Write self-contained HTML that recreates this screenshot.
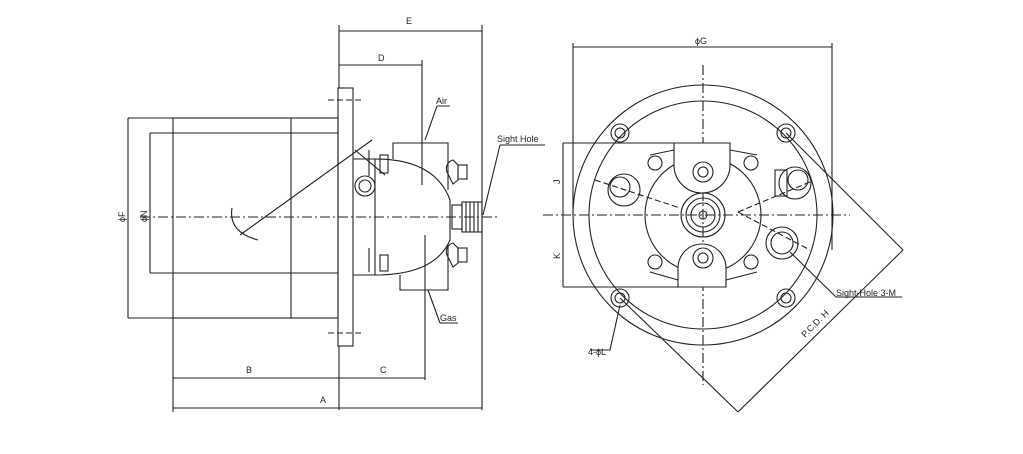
<!DOCTYPE html>
<html><head><meta charset="utf-8"><style>
html,body{margin:0;padding:0;background:#fff;}
svg{display:block}
text{font-family:"Liberation Sans",sans-serif;font-size:9px;fill:#222}
</style></head><body>
<svg width="1023" height="454" viewBox="0 0 1023 454" xmlns="http://www.w3.org/2000/svg">
<g stroke="#222" stroke-width="1.1" fill="none">
<!-- LEFT VIEW -->
<rect x="173" y="118" width="165" height="200"/>
<line x1="291" y1="118" x2="291" y2="318"/>
<line x1="150" y1="133" x2="338" y2="133"/>
<line x1="150" y1="273" x2="338" y2="273"/>
<line x1="150" y1="133" x2="150" y2="273"/>
<line x1="128" y1="118" x2="173" y2="118"/>
<line x1="128" y1="318" x2="173" y2="318"/>
<line x1="128" y1="118" x2="128" y2="318"/>
<rect x="338" y="88" width="15" height="258"/>
<line x1="328" y1="100" x2="363" y2="100" stroke-dasharray="6,3"/>
<line x1="328" y1="333" x2="363" y2="333" stroke-dasharray="6,3"/>
<line x1="140" y1="217" x2="500" y2="217" stroke-dasharray="10,3,2,3"/>
<!-- housing -->
<path d="M353 159 L375 159 L375 275 L353 275"/>
<path d="M393 159 L393 143 L448 143 L448 190"/>
<path d="M375 159 Q435 159 450 200 L450 240 Q435 275 375 275"/>
<path d="M400 275 L400 290 L448 290 L448 245"/>
<rect x="452" y="205" width="10" height="24"/>
<rect x="462" y="202" width="20" height="30"/>
<line x1="466" y1="202" x2="466" y2="232"/><line x1="470" y1="202" x2="470" y2="232"/><line x1="474" y1="202" x2="474" y2="232"/><line x1="478" y1="202" x2="478" y2="232"/>
<rect x="380" y="155" width="8" height="18"/><rect x="380" y="255" width="8" height="16"/>
<line x1="369" y1="150" x2="369" y2="176"/><line x1="369" y1="248" x2="369" y2="272"/>
<circle cx="365" cy="186" r="10"/><circle cx="365" cy="186" r="6"/>
<path d="M447 172 A9 9 0 0 1 453 160 L458 165 L458 180 L453 184 Z"/>
<rect x="458" y="165" width="9" height="14"/>
<path d="M447 255 A9 9 0 0 1 453 243 L458 248 L458 263 L453 267 Z"/>
<rect x="458" y="248" width="9" height="14"/>
<line x1="355" y1="150" x2="385" y2="175"/>
<line x1="240" y1="235" x2="372" y2="140"/>
<path d="M232 208 Q228 232 258 240"/>
<!-- dims left -->
<line x1="339" y1="25" x2="339" y2="88"/>
<line x1="482" y1="25" x2="482" y2="410"/>
<line x1="339" y1="31" x2="482" y2="31"/>
<line x1="339" y1="65" x2="422" y2="65"/>
<line x1="422" y1="60" x2="422" y2="185"/>
<line x1="425" y1="235" x2="425" y2="380"/>
<line x1="339" y1="346" x2="339" y2="410"/>
<line x1="173" y1="318" x2="173" y2="412"/>
<line x1="173" y1="378" x2="425" y2="378"/>
<line x1="173" y1="408" x2="482" y2="408"/>
<path d="M437 106 L450 106 M437 106 L425 140"/>
<path d="M500 145 L545 145 M500 145 L483 215"/>
<path d="M440 323 L458 323 M440 323 L428 290"/>
<!-- RIGHT VIEW -->
<circle cx="703" cy="215" r="130"/>
<circle cx="703" cy="215" r="114"/>
<line x1="573" y1="47" x2="832" y2="47"/>
<line x1="573" y1="43" x2="573" y2="215"/>
<line x1="832" y1="43" x2="832" y2="250"/>
<line x1="703" y1="65" x2="703" y2="385" stroke-dasharray="10,3,2,3"/>
<line x1="543" y1="215" x2="850" y2="215" stroke-dasharray="10,3,2,3"/>
<line x1="563" y1="143" x2="563" y2="287"/>
<line x1="563" y1="143" x2="674" y2="143"/>
<line x1="563" y1="287" x2="678" y2="287"/>
<circle cx="703" cy="215" r="58"/>
<path d="M674 143 L730 143 L730 165 A28 28 0 0 1 674 165 Z" fill="#fff"/>
<path d="M678 287 L726 287 L726 268 A24 24 0 0 0 678 268 Z" fill="#fff"/>
<path d="M650 155 L674 150 M730 150 L757 155 M650 272 L678 280 M726 280 L757 272"/>
<circle cx="703" cy="215" r="22"/><circle cx="703" cy="215" r="17"/><circle cx="703" cy="215" r="12"/><circle cx="703" cy="215" r="4"/>
<circle cx="703" cy="172" r="10"/><circle cx="703" cy="172" r="5"/>
<circle cx="703" cy="258" r="10"/><circle cx="703" cy="258" r="5"/>
<circle cx="655" cy="163" r="7"/><circle cx="751" cy="163" r="7"/><circle cx="655" cy="262" r="7"/><circle cx="751" cy="262" r="7"/>
<circle cx="620" cy="133" r="9"/><circle cx="620" cy="133" r="5"/>
<circle cx="786" cy="133" r="9"/><circle cx="786" cy="133" r="5"/>
<circle cx="620" cy="298" r="9"/><circle cx="620" cy="298" r="5"/>
<circle cx="786" cy="298" r="9"/><circle cx="786" cy="298" r="5"/>
<circle cx="624" cy="190" r="16"/><circle cx="620" cy="187" r="10"/>
<circle cx="795" cy="183" r="16"/><circle cx="798" cy="180" r="10"/>
<rect x="775" y="170" width="12" height="26"/>
<circle cx="782" cy="243" r="16"/><circle cx="782" cy="243" r="11"/>
<line x1="595" y1="180" x2="680" y2="208" stroke-dasharray="6,3"/>
<line x1="738" y1="212" x2="810" y2="182" stroke-dasharray="6,3"/>
<line x1="738" y1="212" x2="810" y2="250" stroke-dasharray="6,3"/>
<line x1="786" y1="133" x2="903" y2="250"/>
<line x1="620" y1="298" x2="738" y2="412"/>
<line x1="738" y1="412" x2="903" y2="250"/>
<path d="M620 305 L610 350 L590 350"/>
<path d="M790 252 L836 297 L902 297"/>
</g>
<text x="406" y="24">E</text>
<text x="378" y="61">D</text>
<text x="246" y="373">B</text>
<text x="380" y="373">C</text>
<text x="320" y="403">A</text>
<text x="436" y="104">Air</text>
<text x="497" y="142">Sight Hole</text>
<text x="440" y="321">Gas</text>
<text transform="translate(125,222) rotate(-90)">ϕF</text>
<text transform="translate(147,222) rotate(-90)">ϕN</text>
<text x="695" y="44">ϕG</text>
<text transform="translate(560,184) rotate(-90)">J</text>
<text transform="translate(560,259) rotate(-90)">K</text>
<text x="836" y="296">Sight-Hole 3-M</text>
<text x="588" y="355">4-ϕL</text>
<text transform="translate(805,338) rotate(-45)">P.C.D. H</text>
</svg>
</body></html>
